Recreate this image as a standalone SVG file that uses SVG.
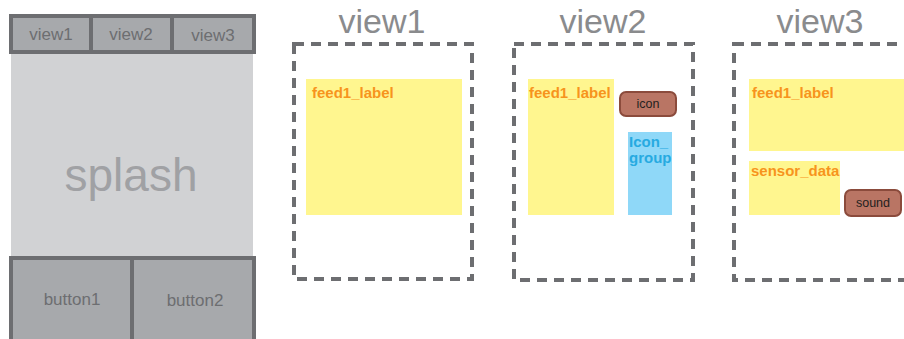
<svg xmlns="http://www.w3.org/2000/svg" width="904" height="339" viewBox="0 0 904 339">
<style>
.frame{stroke:#6d6e71;stroke-width:4}
.tab{fill:#a7a9ac}
.tabtxt{font-family:"Liberation Sans",Arial,sans-serif;font-size:17px;fill:#6d6e71;text-anchor:middle}
.title{font-family:"Liberation Sans",Arial,sans-serif;font-size:34px;fill:#8a8b8d;text-anchor:middle}
.dash{fill:none;stroke:#6d6e71;stroke-width:4;stroke-dasharray:10 7}
.yel{fill:#fff68f}
.lbl{font-family:"Liberation Sans",Arial,sans-serif;font-size:15px;font-weight:bold;fill:#f7941d}
.blue{fill:#27aae1}
.btn{fill:#b97564;stroke:#8b4b3c;stroke-width:2}
.btntxt{font-family:"Liberation Sans",Arial,sans-serif;font-size:12.5px;fill:#231f20;text-anchor:middle}
</style>
<g id="phone">
  <rect x="11" y="54" width="242" height="204" fill="#d1d2d4"/>
  <text x="131" y="191" font-family="Liberation Sans, Arial, sans-serif" font-size="46" fill="#a0a1a4" text-anchor="middle">splash</text>
  <g id="tabs">
    <rect class="tab frame" x="11" y="16" width="80" height="36"/>
    <rect class="tab frame" x="91" y="16" width="81" height="36"/>
    <rect class="tab frame" x="172" y="16" width="82" height="36"/>
    <text class="tabtxt" x="51" y="40">view1</text>
    <text class="tabtxt" x="131" y="40">view2</text>
    <text class="tabtxt" x="213" y="41">view3</text>
  </g>
  <g id="buttons">
    <rect class="tab frame" x="11" y="258" width="121" height="84"/>
    <rect class="tab frame" x="132" y="258" width="122" height="84"/>
    <text class="tabtxt" x="72" y="305">button1</text>
    <text class="tabtxt" x="195" y="306">button2</text>
  </g>
</g>
<g id="view1">
  <text class="title" x="382" y="33">view1</text>
  <rect class="dash" x="294" y="44" width="178" height="235"/>
  <g id="v1_feed1_label">
    <rect class="yel" x="306" y="79" width="156" height="136"/>
    <text class="lbl" x="312" y="98">feed1_label</text>
  </g>
</g>
<g id="view2">
  <text class="title" x="603" y="33">view2</text>
  <rect class="dash" x="514" y="44" width="179" height="236"/>
  <g id="v2_feed1_label">
    <rect class="yel" x="528" y="79" width="86" height="136"/>
    <text class="lbl" x="529" y="98">feed1_label</text>
  </g>
  <g id="v2_icon">
    <rect class="btn" x="620" y="92" width="56" height="24" rx="6"/>
    <text class="btntxt" x="648" y="108">icon</text>
  </g>
  <g id="v2_icon_group">
    <rect x="628" y="132" width="44" height="83" fill="#8fd8f8"/>
    <text class="lbl blue" x="629" y="147">Icon_</text>
    <text class="lbl blue" x="629" y="163">group</text>
  </g>
</g>
<g id="view3">
  <text class="title" x="820" y="33">view3</text>
  <rect class="dash" x="734" y="44" width="190" height="236"/>
  <g id="v3_feed1_label">
    <rect class="yel" x="749" y="79" width="160" height="72"/>
    <text class="lbl" x="752" y="98">feed1_label</text>
  </g>
  <g id="v3_sensor_data">
    <rect class="yel" x="749" y="161" width="91" height="54"/>
    <text class="lbl" x="751" y="176">sensor_data</text>
  </g>
  <g id="v3_sound">
    <rect class="btn" x="845" y="190" width="56" height="26" rx="6"/>
    <text class="btntxt" x="873" y="207">sound</text>
  </g>
</g>
<g id="connectors"/>
</svg>
